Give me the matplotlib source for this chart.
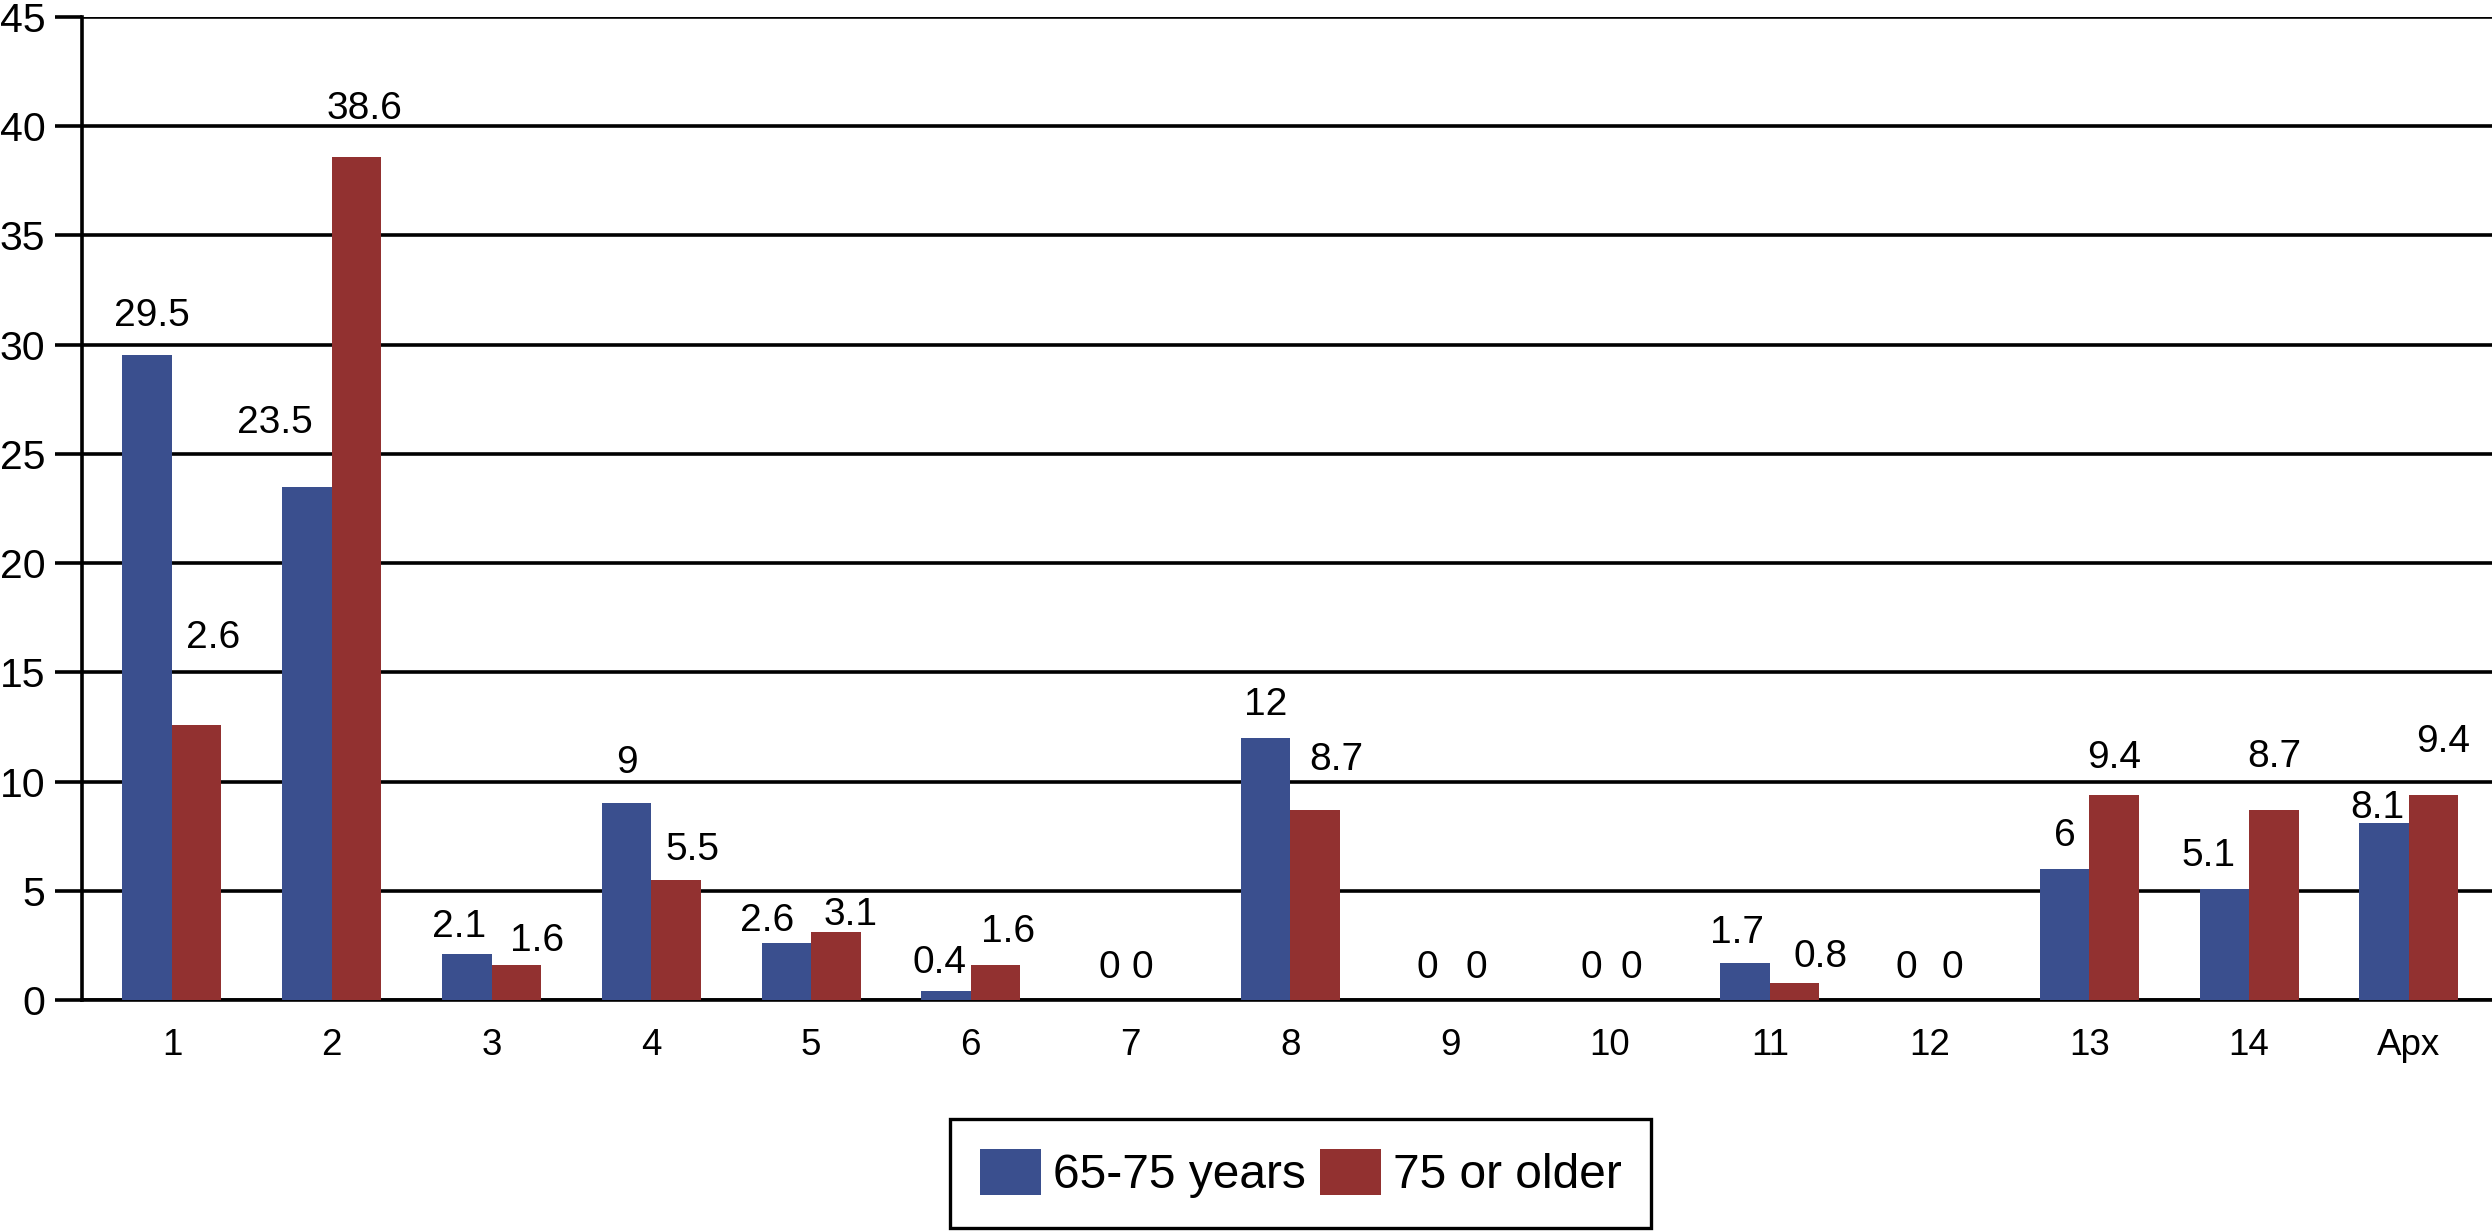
import matplotlib as mpl
import matplotlib.pyplot as plt
import numpy as np

CATEGORIES = ["1", "2", "3", "4", "5", "6", "7", "8", "9", "10", "11", "12", "13", "14", "Apx"]
SERIES = ["65-75 years", "75 or older"]
YOUNGER = [29.5, 23.5, 2.1, 9, 2.6, 0.4, 0, 12, 0, 0, 1.7, 0, 6, 5.1, 8.1]
OLDER = [12.6, 38.6, 1.6, 5.5, 3.1, 1.6, 0, 8.7, 0, 0, 0.8, 0, 9.4, 8.7, 9.4]
# label text as printed in the source figure (first red label is clipped to "2.6" there)
YOUNGER_TXT = ["29.5", "23.5", "2.1", "9", "2.6", "0.4", "0", "12", "0", "0", "1.7", "0", "6", "5.1", "8.1"]
OLDER_TXT = ["2.6", "38.6", "1.6", "5.5", "3.1", "1.6", "0", "8.7", "0", "0", "0.8", "0", "9.4", "8.7", "9.4"]

BLUE = "#3a4f8e"
RED = "#923130"
INK = "#000000"

# label nudges (dx in category units, dy in data units above bar top)
NUDGE_Y = [(0.03, 1.8), (-0.2, 2.9), (-0.05, 1.25), (0, 1.85), (-0.12, 1.0),
           (-0.04, 1.3), (0.02, 1.45), (0, 1.5), (0.01, 1.45), (0.04, 1.45),
           (-0.05, 1.36), (0.01, 1.45), (0, 1.5), (-0.1, 1.5), (-0.04, 0.7)]
NUDGE_O = [(0.1, 3.95), (0.05, 2.2), (0.13, 1.1), (0.1, 1.36), (0.09, 0.8),
           (0.08, 1.5), (-0.08, 1.45), (0.13, 2.3), (0.01, 1.45), (-0.02, 1.45),
           (0.16, 1.17), (-0.01, 1.45), (0, 1.67), (0, 2.4), (0.06, 2.4)]


def main():
    mpl.rcParams.update({
        "font.family": ["Liberation Sans", "DejaVu Sans"],
        "text.color": INK,
    })

    fig = plt.figure(figsize=(24.92, 12.32), dpi=100)
    ax = fig.add_axes([0.0329, 0.1883, 0.9671, 0.7981])

    x = np.arange(len(CATEGORIES))
    bw = 0.31
    b1 = ax.bar(x - bw / 2, YOUNGER, width=bw, color=BLUE, linewidth=0, label=SERIES[0], zorder=3)
    b2 = ax.bar(x + bw / 2, OLDER, width=bw, color=RED, linewidth=0, label=SERIES[1], zorder=3)

    for vals, txts, nudges, sign in [(YOUNGER, YOUNGER_TXT, NUDGE_Y, -1), (OLDER, OLDER_TXT, NUDGE_O, 1)]:
        for i, (v, t, (dx, dy)) in enumerate(zip(vals, txts, nudges)):
            ax.text(x[i] + sign * bw / 2 + dx, v + dy, t, ha="center", va="center",
                    fontsize=28, zorder=5)

    ax.set_xlim(-0.563, 14.52)
    ax.set_ylim(0, 45)
    ax.set_yticks(range(0, 46, 5))
    ax.set_xticks(x)
    ax.set_xticklabels(CATEGORIES)
    ax.yaxis.grid(True, color=INK, linewidth=2.6, zorder=0)
    ax.set_axisbelow(True)
    for s in ["top", "right"]:
        ax.spines[s].set_visible(False)
    for s in ["left", "bottom"]:
        ax.spines[s].set_color(INK)
        ax.spines[s].set_linewidth(2.6)
    ax.tick_params(axis="y", direction="out", length=19.4, width=2.6, color=INK,
                   labelsize=29.5, pad=7)
    ax.tick_params(axis="x", length=0, labelsize=26.5, pad=20)

    leg = fig.legend(handles=[b1, b2], labels=SERIES, loc="center", ncol=2,
                     bbox_to_anchor=(0.522, 0.0475), fontsize=34.5,
                     handlelength=1.27, handleheight=1.1, handletextpad=0.25,
                     columnspacing=0.3, borderpad=0.62, fancybox=False,
                     framealpha=1, edgecolor=INK)
    leg.get_frame().set_linewidth(2.4)

    fig.savefig("out.png", dpi=100)


if __name__ == "__main__":
    main()
